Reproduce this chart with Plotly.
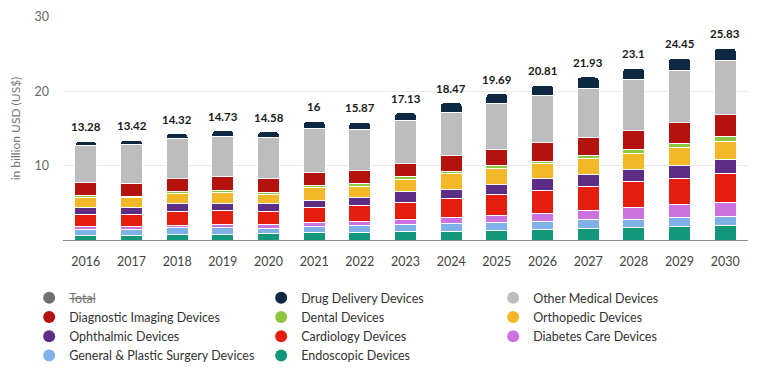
import plotly.graph_objects as go

years = [str(y) for y in range(2016, 2031)]
totals = [13.28, 13.42, 14.32, 14.73, 14.58, 16, 15.87, 17.13, 18.47, 19.69, 20.81, 21.93, 23.1, 24.45, 25.83]

endoscopic = [0.63, 0.65, 0.76, 0.80, 0.83, 1.00, 1.02, 1.10, 1.20, 1.26, 1.36, 1.51, 1.65, 1.81, 1.89]
general_plastic = [0.76, 0.75, 0.88, 0.92, 0.78, 0.83, 0.90, 1.00, 0.98, 1.15, 1.09, 1.19, 1.12, 1.28, 1.21]
diabetes = [0.36, 0.35, 0.35, 0.42, 0.45, 0.50, 0.57, 0.66, 0.82, 0.88, 1.14, 1.24, 1.59, 1.65, 2.00]
cardiology = [1.71, 1.70, 1.90, 1.80, 1.84, 2.00, 2.20, 2.32, 2.61, 2.85, 3.10, 3.24, 3.50, 3.51, 3.79]
ophthalmic = [0.90, 0.90, 1.00, 1.00, 1.00, 1.00, 1.02, 1.49, 1.25, 1.32, 1.58, 1.57, 1.59, 1.81, 1.89]
orthopedic = [1.36, 1.35, 1.30, 1.45, 1.22, 1.67, 1.53, 1.60, 2.07, 2.19, 1.96, 2.21, 2.23, 2.39, 2.52]
dental = [0.20, 0.20, 0.30, 0.25, 0.33, 0.33, 0.40, 0.39, 0.22, 0.33, 0.38, 0.43, 0.48, 0.48, 0.58]
diagnostic = [1.80, 1.75, 1.80, 1.95, 1.78, 1.78, 1.70, 1.77, 2.28, 2.19, 2.45, 2.43, 2.60, 2.87, 3.05]
other_medical = [5.02, 5.20, 5.40, 5.30, 5.51, 5.83, 5.48, 5.69, 5.70, 6.14, 6.34, 6.60, 6.80, 7.00, 7.16]
drug_delivery = [0.54, 0.57, 0.63, 0.84, 0.84, 1.06, 1.05, 1.11, 1.34, 1.38, 1.41, 1.51, 1.54, 1.65, 1.74]

# stacking order bottom -> top
stack = [
    ("Endoscopic Devices", endoscopic, "#12977a"),
    ("General & Plastic Surgery Devices", general_plastic, "#7fb0e8"),
    ("Diabetes Care Devices", diabetes, "#cc72e0"),
    ("Cardiology Devices", cardiology, "#e41d0f"),
    ("Ophthalmic Devices", ophthalmic, "#5e2d85"),
    ("Orthopedic Devices", orthopedic, "#f2b827"),
    ("Dental Devices", dental, "#8dc63f"),
    ("Diagnostic Imaging Devices", diagnostic, "#b3120f"),
    ("Other Medical Devices", other_medical, "#bdbdbd"),
    ("Drug Delivery Devices", drug_delivery, "#0d2841"),
]
colors = {n: c for n, _, c in stack}

legend_order = [
    ("Total", "#707070"),
    ("Drug Delivery Devices", colors["Drug Delivery Devices"]),
    ("Other Medical Devices", colors["Other Medical Devices"]),
    ("Diagnostic Imaging Devices", colors["Diagnostic Imaging Devices"]),
    ("Dental Devices", colors["Dental Devices"]),
    ("Orthopedic Devices", colors["Orthopedic Devices"]),
    ("Ophthalmic Devices", colors["Ophthalmic Devices"]),
    ("Cardiology Devices", colors["Cardiology Devices"]),
    ("Diabetes Care Devices", colors["Diabetes Care Devices"]),
    ("General & Plastic Surgery Devices", colors["General & Plastic Surgery Devices"]),
    ("Endoscopic Devices", colors["Endoscopic Devices"]),
]

FONT = "Lato"
fig = go.Figure()

for name, col in legend_order:
    label = name
    if name == "Total":
        label = "<span style='text-decoration:line-through;color:#777'>Total</span>"
    fig.add_trace(go.Scatter(
        x=[None], y=[None], mode="markers", name=label,
        marker=dict(symbol="circle", size=12, color=col),
        showlegend=True, hoverinfo="skip",
    ))

for name, vals, col in stack:
    fig.add_trace(go.Bar(
        x=years, y=vals, name=name, showlegend=False,
        marker=dict(color=col, line=dict(color="white", width=1)),
    ))

# category axis: annotations use the category index
for i, t in enumerate(totals):
    fig.add_annotation(
        x=i, y=t, text=f"{t:g}", showarrow=False, yanchor="bottom", yshift=6,
        font=dict(family=FONT, size=11.5, color="#1a1a1a", weight="bold"),
    )

# page body has an 8px default margin: figure is sized to fit inside the window
fig.update_layout(
    width=750, height=358,
    barmode="stack", bargap=0.52, barcornerradius=4,
    plot_bgcolor="white", paper_bgcolor="white",
    margin=dict(l=55, r=10, t=9, b=126, autoexpand=False),
    font=dict(family=FONT, size=12, color="#333"),
    showlegend=True,
    legend=dict(
        orientation="h", x=-0.0494, xanchor="left", y=-0.193, yanchor="top",
        entrywidth=187, entrywidthmode="pixels",
        font=dict(family=FONT, size=12.5, color="#333"),
        itemsizing="constant", traceorder="normal",
        tracegroupgap=0,
    ),
    xaxis=dict(
        type="category", showgrid=False, showline=True, linecolor="#8c8c8c", linewidth=1,
        ticks="", tickfont=dict(family=FONT, size=12.5, color="#444"),
        ticklabelstandoff=10,
    ),
    yaxis=dict(
        range=[0, 30], tickvals=[0, 10, 20, 30], ticktext=["", "10", "20", "30"],
        showgrid=True, gridcolor="#e9e9e9", gridwidth=1, zeroline=False,
        tickfont=dict(family=FONT, size=12.5, color="#666"),
        ticklabelstandoff=13,
        title=dict(text="in billion USD (US$)", font=dict(family=FONT, size=12, color="#777"), standoff=12),
    ),
)

fig.write_html("out.html")
